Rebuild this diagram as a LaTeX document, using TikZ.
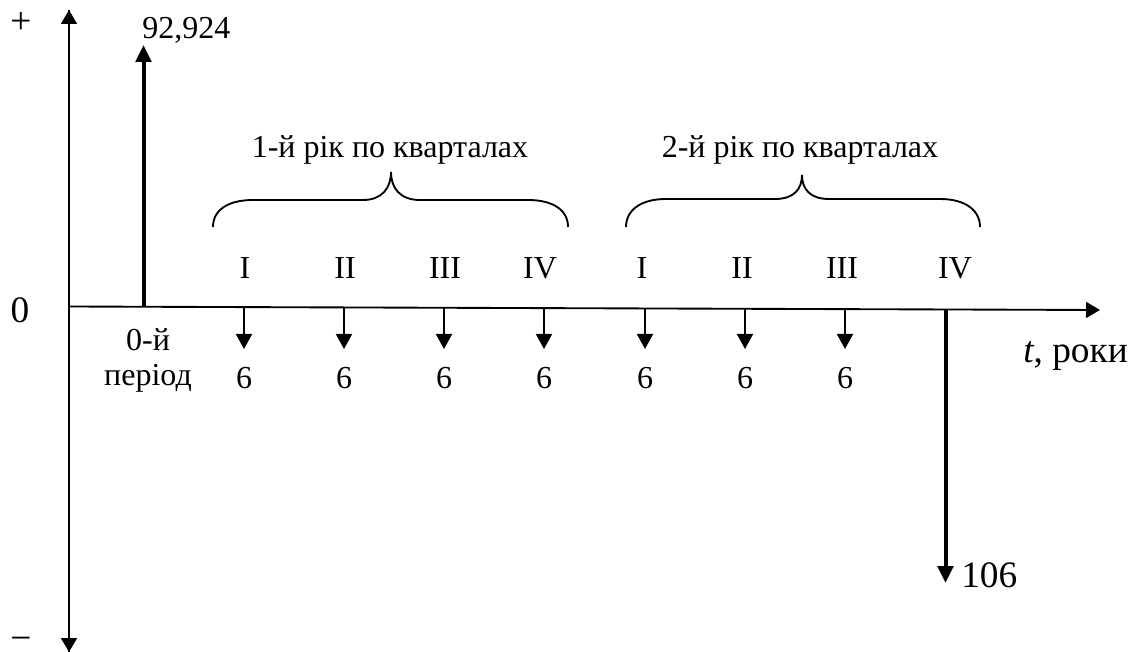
\documentclass[tikz,border=0pt]{standalone}
\usepackage{fontspec}
\setmainfont{Liberation Serif}
\usetikzlibrary{arrows.meta}
\tikzset{
  axisline/.style={line width=1.4pt,-{Triangle[length=10.5pt,width=12pt]}},
  payment/.style={line width=1.4pt,-{Triangle[length=11.25pt,width=12pt]}},
  bigpayment/.style={line width=3pt,-{Triangle[length=12.75pt,width=11.5pt]}},
  quarterbrace/.style={line width=1.4pt},
  lbl/.style={inner sep=0.75pt,font=\fontsize{24}{27}\selectfont},
  biglbl/.style={inner sep=0.75pt,font=\fontsize{28}{31}\selectfont},
}
\begin{document}
\begin{tikzpicture}[x=0.75pt,y=0.75pt,yscale=-1,xscale=1]
\useasboundingbox (0,0) rectangle (1139,652);
% axes
\coordinate (ytop) at (69,10);
\coordinate (ybot) at (69,652);
\coordinate (xleft) at (69,306.5);
\coordinate (xright) at (1100,310);
\draw [axisline] (ybot) -- (ytop);
\draw [axisline] (ytop) -- (ybot);
\draw [axisline] (xleft) -- (xright);
\node [biglbl] (plus) at (21,23) {+};
\node [biglbl] (minus) at (21,644) {−};
\node [biglbl] (zero) at (20,310) {0};
\node [biglbl,anchor=west] (taxis) at (1022,356) {\textit{t}, роки};
% 0-th period
\coordinate (p0) at (143.5,307);
\coordinate (p0top) at (143.5,45);
\draw [bigpayment] (p0) -- (p0top);
\node [lbl,anchor=west] (loan) at (141,30) {92,924};
\node [lbl] (per0a) at (148,340) {0-й};
\node [lbl] (per0b) at (148,378) {період};
% quarterly payments
\coordinate (q1) at (244,307.5);   \coordinate (q1e) at (244,349);
\coordinate (q2) at (344,307.8);   \coordinate (q2e) at (344,349);
\coordinate (q3) at (444,308.1);   \coordinate (q3e) at (444,349);
\coordinate (q4) at (544,308.4);   \coordinate (q4e) at (544,349);
\coordinate (q5) at (645,308.7);   \coordinate (q5e) at (645,349);
\coordinate (q6) at (745,309);     \coordinate (q6e) at (745,349);
\coordinate (q7) at (845,309.3);   \coordinate (q7e) at (845,349);
\draw [payment] (q1) -- (q1e);
\draw [payment] (q2) -- (q2e);
\draw [payment] (q3) -- (q3e);
\draw [payment] (q4) -- (q4e);
\draw [payment] (q5) -- (q5e);
\draw [payment] (q6) -- (q6e);
\draw [payment] (q7) -- (q7e);
\node [lbl] (s1) at (244,378) {6};
\node [lbl] (s2) at (344,378) {6};
\node [lbl] (s3) at (444,378) {6};
\node [lbl] (s4) at (544,378) {6};
\node [lbl] (s5) at (645,378) {6};
\node [lbl] (s6) at (745,378) {6};
\node [lbl] (s7) at (845,378) {6};
% final payment
\coordinate (q8) at (945.5,309.5);
\coordinate (q8e) at (945.5,583);
\draw [bigpayment] (q8) -- (q8e);
\node [biglbl,anchor=west] (final) at (960,575) {106};
% quarters
\node [lbl] (k1) at (245,268) {I};
\node [lbl] (k2) at (345,268) {II};
\node [lbl] (k3) at (445,268) {III};
\node [lbl] (k4) at (540,268) {IV};
\node [lbl] (k5) at (642,268) {I};
\node [lbl] (k6) at (742,268) {II};
\node [lbl] (k7) at (842,268) {III};
\node [lbl] (k8) at (955,268) {IV};
% braces
\draw [quarterbrace] (213,227) .. controls (213,210) and (228,200) .. (253,200) -- (363,200) .. controls (382,200) and (391,188) .. (391,172) .. controls (391,188) and (400,200) .. (420,200) -- (528,200) .. controls (553,200) and (568,210) .. (568,227) ;
\draw [quarterbrace] (626,227) .. controls (626,210) and (641,199) .. (666,199) -- (775,199) .. controls (794,199) and (802,189) .. (802,175) .. controls (802,189) and (810,199) .. (829,199) -- (940,199) .. controls (965,199) and (980,210) .. (980,227) ;
\node [lbl] (year1) at (390,150) {1-й рік по кварталах};
\node [lbl] (year2) at (800,150) {2-й рік по кварталах};
\end{tikzpicture}
\end{document}
